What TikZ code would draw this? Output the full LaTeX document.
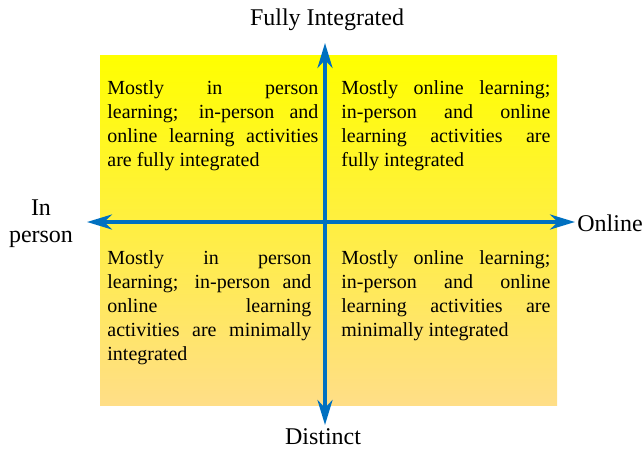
\documentclass[tikz,border=0pt]{standalone}
\usepackage{fontspec}
\setmainfont{Liberation Serif}
\usepackage{amsmath}
\usetikzlibrary{arrows.meta}
\definecolor{axisblue}{RGB}{0,112,192}
\definecolor{topyellow}{RGB}{255,255,0}
\definecolor{bottomorange}{RGB}{255,222,135}
\hyphenpenalty=10000
\exhyphenpenalty=10000

\begin{document}
\begin{tikzpicture}[x=0.5pt, y=-0.5pt, font=\fontsize{10}{12}\selectfont]
				\useasboundingbox (0,0) rectangle (643,450);
				\shade[top color=topyellow, bottom color=bottomorange] (100,55) rectangle (557,405);
				\node[anchor=north west, text width=105.5pt, align=justify, inner sep=0pt] (FI)at(107, 80) {Mostly in person\linebreak learning; in-person and\linebreak online learning activities\linebreak are fully integrated};
				\node[anchor=north west, text width=104.5pt, align=justify, inner sep=0pt] (FO)at(341, 80) {Mostly online learning; in-person and online learning activities are fully integrated};
				\node[anchor=north west, text width=102pt, align=justify, inner sep=0pt] (DI)at(107, 250) {Mostly in person\linebreak learning; in-person and\linebreak online learning\linebreak activities are minimally\linebreak integrated};
				\node[anchor=north west, text width=104.5pt, align=justify, inner sep=0pt] (DO)at(341, 250) {Mostly online learning; in-person and online learning activities are minimally integrated};
				\node[inner sep=0pt, font=\fontsize{12}{13.5}\selectfont] (top)at(327, 20) {Fully Integrated};
				\node[inner sep=0pt, font=\fontsize{12}{13.5}\selectfont] (bot)at(323, 437) {Distinct};
				\node[inner sep=0pt, align=center, font=\fontsize{12}{13.5}\selectfont] (left)at(41, 224) {In\\person};
				\node[anchor=west, inner sep=0pt, font=\fontsize{12}{13.5}\selectfont] (right)at(577, 223) {Online};
				\coordinate (N) at (325, 43);
				\coordinate (S) at (325, 425);
				\coordinate (W) at (87, 222);
				\coordinate (E) at (575, 222);
				\draw[<->, >={Stealth[length=12.5pt, width=7.5pt, inset=4pt]}, line width=2pt, axisblue] (S) -- (N);
				\draw[<->, >={Stealth[length=12.5pt, width=7.5pt, inset=4pt]}, line width=2pt, axisblue] (W) -- (E);
			\end{tikzpicture}
\end{document}
